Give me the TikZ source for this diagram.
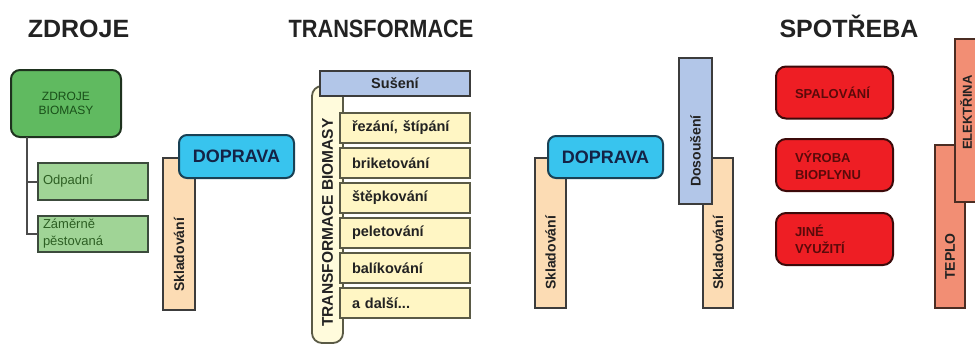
\documentclass[tikz,border=0pt]{standalone}
\usepackage{fontspec}
\setmainfont{Liberation Sans}
\definecolor{titlegray}{RGB}{34,34,34}
\definecolor{gdark}{RGB}{96,186,96}
\definecolor{gdarkline}{RGB}{30,50,30}
\definecolor{gtext}{RGB}{25,80,25}
\definecolor{glight}{RGB}{160,212,150}
\definecolor{glightline}{RGB}{60,75,60}
\definecolor{gtext2}{RGB}{45,95,35}
\definecolor{treegray}{RGB}{75,75,75}
\definecolor{dopfill}{RGB}{56,196,238}
\definecolor{dopline}{RGB}{25,65,85}
\definecolor{doptext}{RGB}{20,35,70}
\definecolor{tan}{RGB}{252,220,180}
\definecolor{boxline}{RGB}{60,60,60}
\definecolor{bluefill}{RGB}{178,198,232}
\definecolor{yelfill}{RGB}{255,246,196}
\definecolor{yelpale}{RGB}{255,251,220}
\definecolor{yelline}{RGB}{90,90,70}
\definecolor{redfill}{RGB}{238,30,36}
\definecolor{redline}{RGB}{60,10,10}
\definecolor{redtext}{RGB}{90,10,10}
\definecolor{salmon}{RGB}{242,142,116}
\definecolor{salline}{RGB}{75,45,35}
\begin{document}
\begin{tikzpicture}[x=1pt,y=-1pt,
  title/.style={font=\fontsize{25}{30}\selectfont\bfseries, text=titlegray, anchor=base, inner sep=0pt},
  sized/.style={inner sep=0pt, outer sep=0pt},
  zbox/.style={sized, draw=gdarkline, line width=2pt, rounded corners=9pt, fill=gdark, text=gtext, font=\fontsize{12}{14}\selectfont, align=center},
  lgbox/.style={sized, draw=glightline, line width=1.8pt, fill=glight, text=gtext2, font=\fontsize{13}{17}\selectfont, align=left, inner xsep=5pt, text width=100pt},
  tree/.style={draw=treegray, line width=2pt},
  dop/.style={sized, draw=dopline, line width=2pt, rounded corners=8pt, fill=dopfill, text=doptext, font=\fontsize{18}{20}\selectfont\bfseries},
  sklad/.style={sized, draw=boxline, line width=1.8pt, fill=tan},
  bluebox/.style={sized, draw=boxline, line width=1.8pt, fill=bluefill, text=titlegray, font=\fontsize{14.5}{16}\selectfont\bfseries},
  tallbox/.style={sized, draw=yelline, line width=1.8pt, fill=yelpale, rounded corners=10pt},
  item/.style={sized, draw=yelline, line width=1.8pt, fill=yelfill, text=titlegray, font=\fontsize{14.5}{16}\selectfont\bfseries, align=left, inner xsep=12pt, text width=106pt, minimum width=130pt, minimum height=30pt},
  redbox/.style={sized, draw=redline, line width=2pt, rounded corners=10pt, fill=redfill, text=redtext, font=\fontsize{13}{17}\selectfont\bfseries, align=left, inner xsep=19pt, text width=79pt, minimum height=52pt},
  salbox/.style={sized, draw=salline, line width=1.8pt, fill=salmon},
  vtext/.style={rotate=90, anchor=west, inner sep=0pt, text=titlegray, font=\fontsize{14}{16}\selectfont\bfseries}
]
\useasboundingbox (0,0) rectangle (975,346);
% titles
\node[title] (t1) at (78.5,37) {ZDROJE};
\node[title, xscale=0.87] (t2) at (381,37) {TRANSFORMACE};
\node[title] (t3) at (849,37) {SPOTŘEBA};
% ZDROJE
\node[zbox, minimum width=110pt, minimum height=67pt] (zb) at (66,103.5) {ZDROJE\\BIOMASY};
\node[lgbox, minimum height=37pt] (odp) at (93,181.5) {Odpadní};
\node[lgbox, minimum height=36pt] (zam) at (93,234) {Záměrně\\pěstovaná};
\coordinate (trunk) at (27,137);
\draw[tree] (trunk) |- (odp.west);
\draw[tree] (trunk) |- (zam.west);
% doprava 1
\node[sklad, minimum width=32pt, minimum height=152pt] (skl1) at (179,234) {};
\node[vtext] (skl1t) at ([yshift=18pt]skl1.south) {Skladování};
\node[dop, minimum width=115pt, minimum height=43pt] (dop1) at (236.5,156.5) {DOPRAVA};
% transformace
\node[tallbox, minimum width=31pt, minimum height=257pt] (tb) at (327.5,214.5) {};
\node[vtext, font=\fontsize{15.5}{17}\selectfont\bfseries] (tbt) at ([yshift=16pt]tb.south) {TRANSFORMACE BIOMASY};
\node[bluebox, minimum width=150pt, minimum height=25pt] (sus) at (395,83.5) {Sušení};
\node[item] (i1) at (405,128) {řezání, štípání};
\node[item] (i2) at (405,163) {briketování};
\node[item] (i3) at (405,198) {štěpkování};
\node[item] (i4) at (405,233) {peletování};
\node[item] (i5) at (405,268) {balíkování};
\node[item] (i6) at (405,303) {a další...};
% doprava 2
\node[sklad, minimum width=31pt, minimum height=150pt] (skl2) at (550.5,233) {};
\node[vtext] (skl2t) at ([yshift=18pt]skl2.south) {Skladování};
\node[dop, minimum width=115pt, minimum height=42pt] (dop2) at (605.5,157) {DOPRAVA};
\node[sklad, minimum width=30pt, minimum height=150pt] (skl3) at (718,233) {};
\node[vtext] (skl3t) at ([yshift=18pt]skl3.south) {Skladování};
\node[bluebox, minimum width=33pt, minimum height=146pt] (dos) at (695.5,131) {};
\node[vtext] (dost) at ([yshift=17pt]dos.south) {Dosoušení};
% spotreba
\node[redbox] (r1) at (834.5,92.5) {SPALOVÁNÍ};
\node[redbox] (r2) at (834.5,165) {VÝROBA\\BIOPLYNU};
\node[redbox] (r3) at (834.5,239) {JINÉ\\VYUŽITÍ};
\node[salbox, minimum width=30pt, minimum height=163pt] (tep) at (950,226.5) {};
\node[vtext] (tept) at ([yshift=28pt]tep.south) {TEPLO};
\node[salbox, minimum width=35pt, minimum height=163pt] (ele) at (972.5,120.5) {};
\coordinate (elebase) at (966,150);
\node[vtext, font=\fontsize{13}{15}\selectfont\bfseries] (elet) at (elebase) {ELEKTŘINA};
\end{tikzpicture}
\end{document}
